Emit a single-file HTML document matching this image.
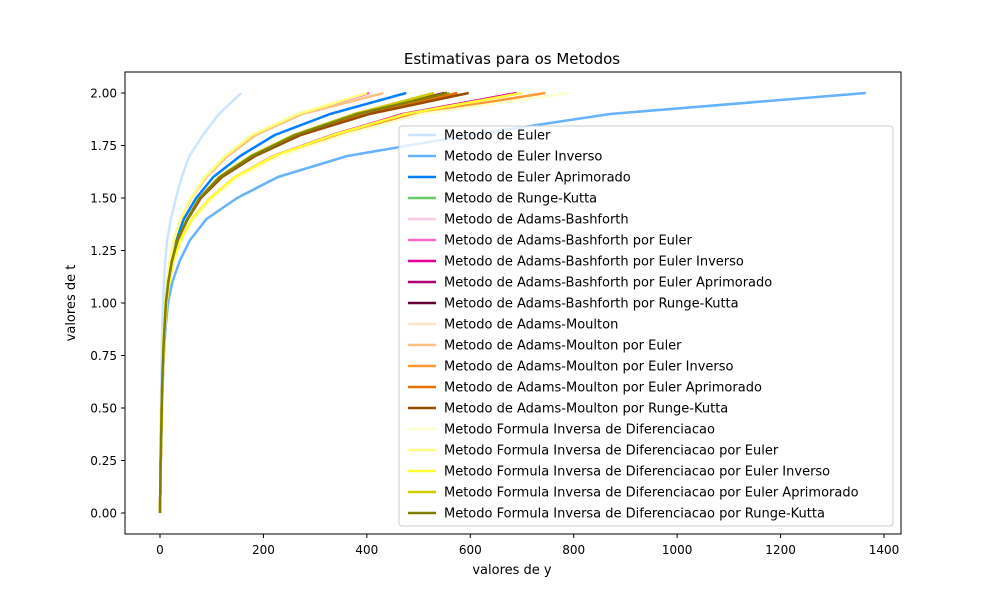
<!DOCTYPE html>
<html><head><meta charset="utf-8"><style>
body{margin:0;background:#fff;font-family:"Liberation Sans","DejaVu Sans",sans-serif}
svg text{font-family:"DejaVu Sans","Liberation Sans",sans-serif}
</style></head><body>
<svg id="chart" width="1000" height="600" xmlns="http://www.w3.org/2000/svg">
<rect width="1000" height="600" fill="#fff"/>
<text x="512" y="64" font-size="15" text-anchor="middle">Estimativas para os Metodos</text>
<text x="512" y="574" font-size="13" text-anchor="middle">valores de y</text>
<text x="75" y="303" font-size="13" text-anchor="middle" transform="rotate(-90 75 303)">valores de t</text>
<g id="plot"></g>
<rect x="125" y="72" width="776" height="462" fill="none" stroke="#000" stroke-width="1"/>
<g id="ticks"></g>
<g id="legend"></g>
</svg>
<script>
const tValues=[0,0.1,0.2,0.3,0.4,0.5,0.6,0.7,0.8,0.9,1.0,1.1,1.2,1.3,1.4,1.5,1.6,1.7,1.8,1.9,2.0];
const xTicks=[0,200,400,600,800,1000,1200,1400];
const yTicks=[0,0.25,0.5,0.75,1.0,1.25,1.5,1.75,2.0];
const seriesNames=["Metodo de Euler","Metodo de Euler Inverso","Metodo de Euler Aprimorado","Metodo de Runge-Kutta","Metodo de Adams-Bashforth","Metodo de Adams-Bashforth por Euler","Metodo de Adams-Bashforth por Euler Inverso","Metodo de Adams-Bashforth por Euler Aprimorado","Metodo de Adams-Bashforth por Runge-Kutta","Metodo de Adams-Moulton","Metodo de Adams-Moulton por Euler","Metodo de Adams-Moulton por Euler Inverso","Metodo de Adams-Moulton por Euler Aprimorado","Metodo de Adams-Moulton por Runge-Kutta","Metodo Formula Inversa de Diferenciacao","Metodo Formula Inversa de Diferenciacao por Euler","Metodo Formula Inversa de Diferenciacao por Euler Inverso","Metodo Formula Inversa de Diferenciacao por Euler Aprimorado","Metodo Formula Inversa de Diferenciacao por Runge-Kutta"];
const seriesColors=["#cce5ff","#66b2ff","#0080ff","#66cc66","#f8cce6","#ff66cc","#e6009a","#b30077","#660033","#ffe5cc","#ffbf80","#ff9933","#e67300","#994c00","#ffffcc","#ffff80","#ffff33","#cccc00","#808000"];
const sEuler=[0,0.3,0.6,1,1.4,1.8,2.3,2.9,3.6,4.5,5.8,7.5,10,14,21,31,42,57,83,114,157];
const sEulerInv=[0,0.6,1.2,2,2.9,3.9,5,6.5,8.5,11.5,15.5,24,38,58,90,149,228,362,600,870,1365];
const sEulerApr=[0,0.5,1,1.7,2.4,3.2,4.2,5.4,6.8,8.5,11,15,21,31,46,70,103,155,222,329,476];
const sRK=[0,0.5,1,1.7,2.5,3.3,4.3,5.5,7,9,11.5,16,23,34,53,77,116,178,262,385,560];
const sAB=[0,0.5,1,1.7,2.5,3.3,4.3,5.5,7,9,11.5,16,23,34,53,77,116,178,262,380,550];
const sABEuler=[0,0.5,1,1.6,2.3,3.1,4,5.1,6.4,8,10,14,19,27,40,60,88,128,180,268,405];
const sABInv=[0,0.6,1.2,1.9,2.7,3.6,4.7,6,7.6,9.8,12.5,18,26,40,62,97,145,219,333,470,690];
const sABApr=[0,0.5,1,1.7,2.5,3.3,4.3,5.5,7,9,11.5,16,23,34,53,77,116,178,262,380,550];
const sABRK=[0,0.5,1,1.7,2.5,3.3,4.3,5.5,7,9,11.5,16,23,34,53,77,116,178,262,382,555];
const sAM=[0,0.5,1,1.6,2.3,3.1,4,5.1,6.4,8,10,14,19,27,40,60,88,128,185,275,432];
const sAMEuler=[0,0.5,1,1.6,2.3,3.1,4,5.1,6.4,8,10,14,19,27,40,61,90,131,185,275,432];
const sAMInv=[0,0.6,1.2,1.9,2.7,3.6,4.7,6,7.6,9.8,12.5,18,26,41,64,100,150,226,345,490,745];
const sAMApr=[0,0.5,1,1.7,2.5,3.3,4.3,5.5,7,9,11.5,16,23,34,53,78,118,181,268,395,575];
const sAMRK=[0,0.5,1,1.7,2.5,3.3,4.3,5.5,7,9,11.5,16,23,34,54,79,120,184,272,405,597];
const sFID=[0,0.6,1.2,1.9,2.7,3.6,4.7,6,7.6,9.8,12.5,18,26,42,65,102,153,232,355,505,790];
const sFIDEuler=[0,0.5,1,1.6,2.3,3.1,4,5.1,6.4,8,10,14,19,27,40,60,87,126,178,267,400];
const sFIDInv=[0,0.6,1.2,1.9,2.7,3.6,4.7,6,7.6,9.8,12.5,18,26,40,62,97,145,220,335,475,700];
const sFIDApr=[0,0.5,1,1.7,2.5,3.3,4.3,5.5,7,9,11.5,16,23,34,53,76,114,175,258,375,530];
const sFIDRK=[0,0.5,1,1.7,2.5,3.3,4.3,5.5,7,9,11.5,16,23,34,53,77,116,178,262,382,555];
const seriesValues=[sEuler,sEulerInv,sEulerApr,sRK,sAB,sABEuler,sABInv,sABApr,sABRK,sAM,sAMEuler,sAMInv,sAMApr,sAMRK,sFID,sFIDEuler,sFIDInv,sFIDApr,sFIDRK];

const NS="http://www.w3.org/2000/svg";
function xScale(v){return 160+v*(724/1400);}
function yScale(t){return 513-t*210;}
const plot=document.getElementById('plot');
seriesValues.forEach((vals,i)=>{
  const p=document.createElementNS(NS,'polyline');
  p.setAttribute('points',vals.map((v,k)=>xScale(v).toFixed(1)+','+yScale(tValues[k]).toFixed(1)).join(' '));
  p.setAttribute('fill','none');p.setAttribute('stroke',seriesColors[i]);
  p.setAttribute('stroke-width','2.5');p.setAttribute('stroke-linejoin','round');
  
  
  plot.appendChild(p);
});
const ticks=document.getElementById('ticks');
xTicks.forEach(v=>{
  const x=xScale(v);
  const l=document.createElementNS(NS,'line');
  l.setAttribute('x1',x);l.setAttribute('x2',x);l.setAttribute('y1',534);l.setAttribute('y2',538);l.setAttribute('stroke','#000');
  
  
  ticks.appendChild(l);
  const t=document.createElementNS(NS,'text');
  t.setAttribute('x',x);t.setAttribute('y',554);t.setAttribute('font-size','12');t.setAttribute('text-anchor','middle');
  t.textContent=v;
  
  
  ticks.appendChild(t);
});
yTicks.forEach(v=>{
  const y=yScale(v);
  const l=document.createElementNS(NS,'line');
  l.setAttribute('x1',121);l.setAttribute('x2',125);l.setAttribute('y1',y);l.setAttribute('y2',y);l.setAttribute('stroke','#000');
  
  
  ticks.appendChild(l);
  const t=document.createElementNS(NS,'text');
  t.setAttribute('x',117);t.setAttribute('y',y+4.5);t.setAttribute('font-size','12');t.setAttribute('text-anchor','end');
  t.textContent=v.toFixed(2);
  
  
  ticks.appendChild(t);
});
const lg=document.getElementById('legend');
const box=document.createElementNS(NS,'rect');
box.setAttribute('x',399);box.setAttribute('y',126);box.setAttribute('width',494);box.setAttribute('height',400);
box.setAttribute('rx',3);box.setAttribute('fill','rgba(255,255,255,0.8)');box.setAttribute('stroke','#ccc');


lg.appendChild(box);
seriesNames.forEach((n,i)=>{
  const y=135+i*21;
  const l=document.createElementNS(NS,'line');
  l.setAttribute('x1',408);l.setAttribute('x2',436);l.setAttribute('y1',y);l.setAttribute('y2',y);
  l.setAttribute('stroke',seriesColors[i]);l.setAttribute('stroke-width','2.5');
  
  
  lg.appendChild(l);
  const t=document.createElementNS(NS,'text');
  t.setAttribute('x',444);t.setAttribute('y',y+4.5);t.setAttribute('font-size','13');
  t.textContent=n;
  
  
  lg.appendChild(t);
});
</script>
</body></html>
